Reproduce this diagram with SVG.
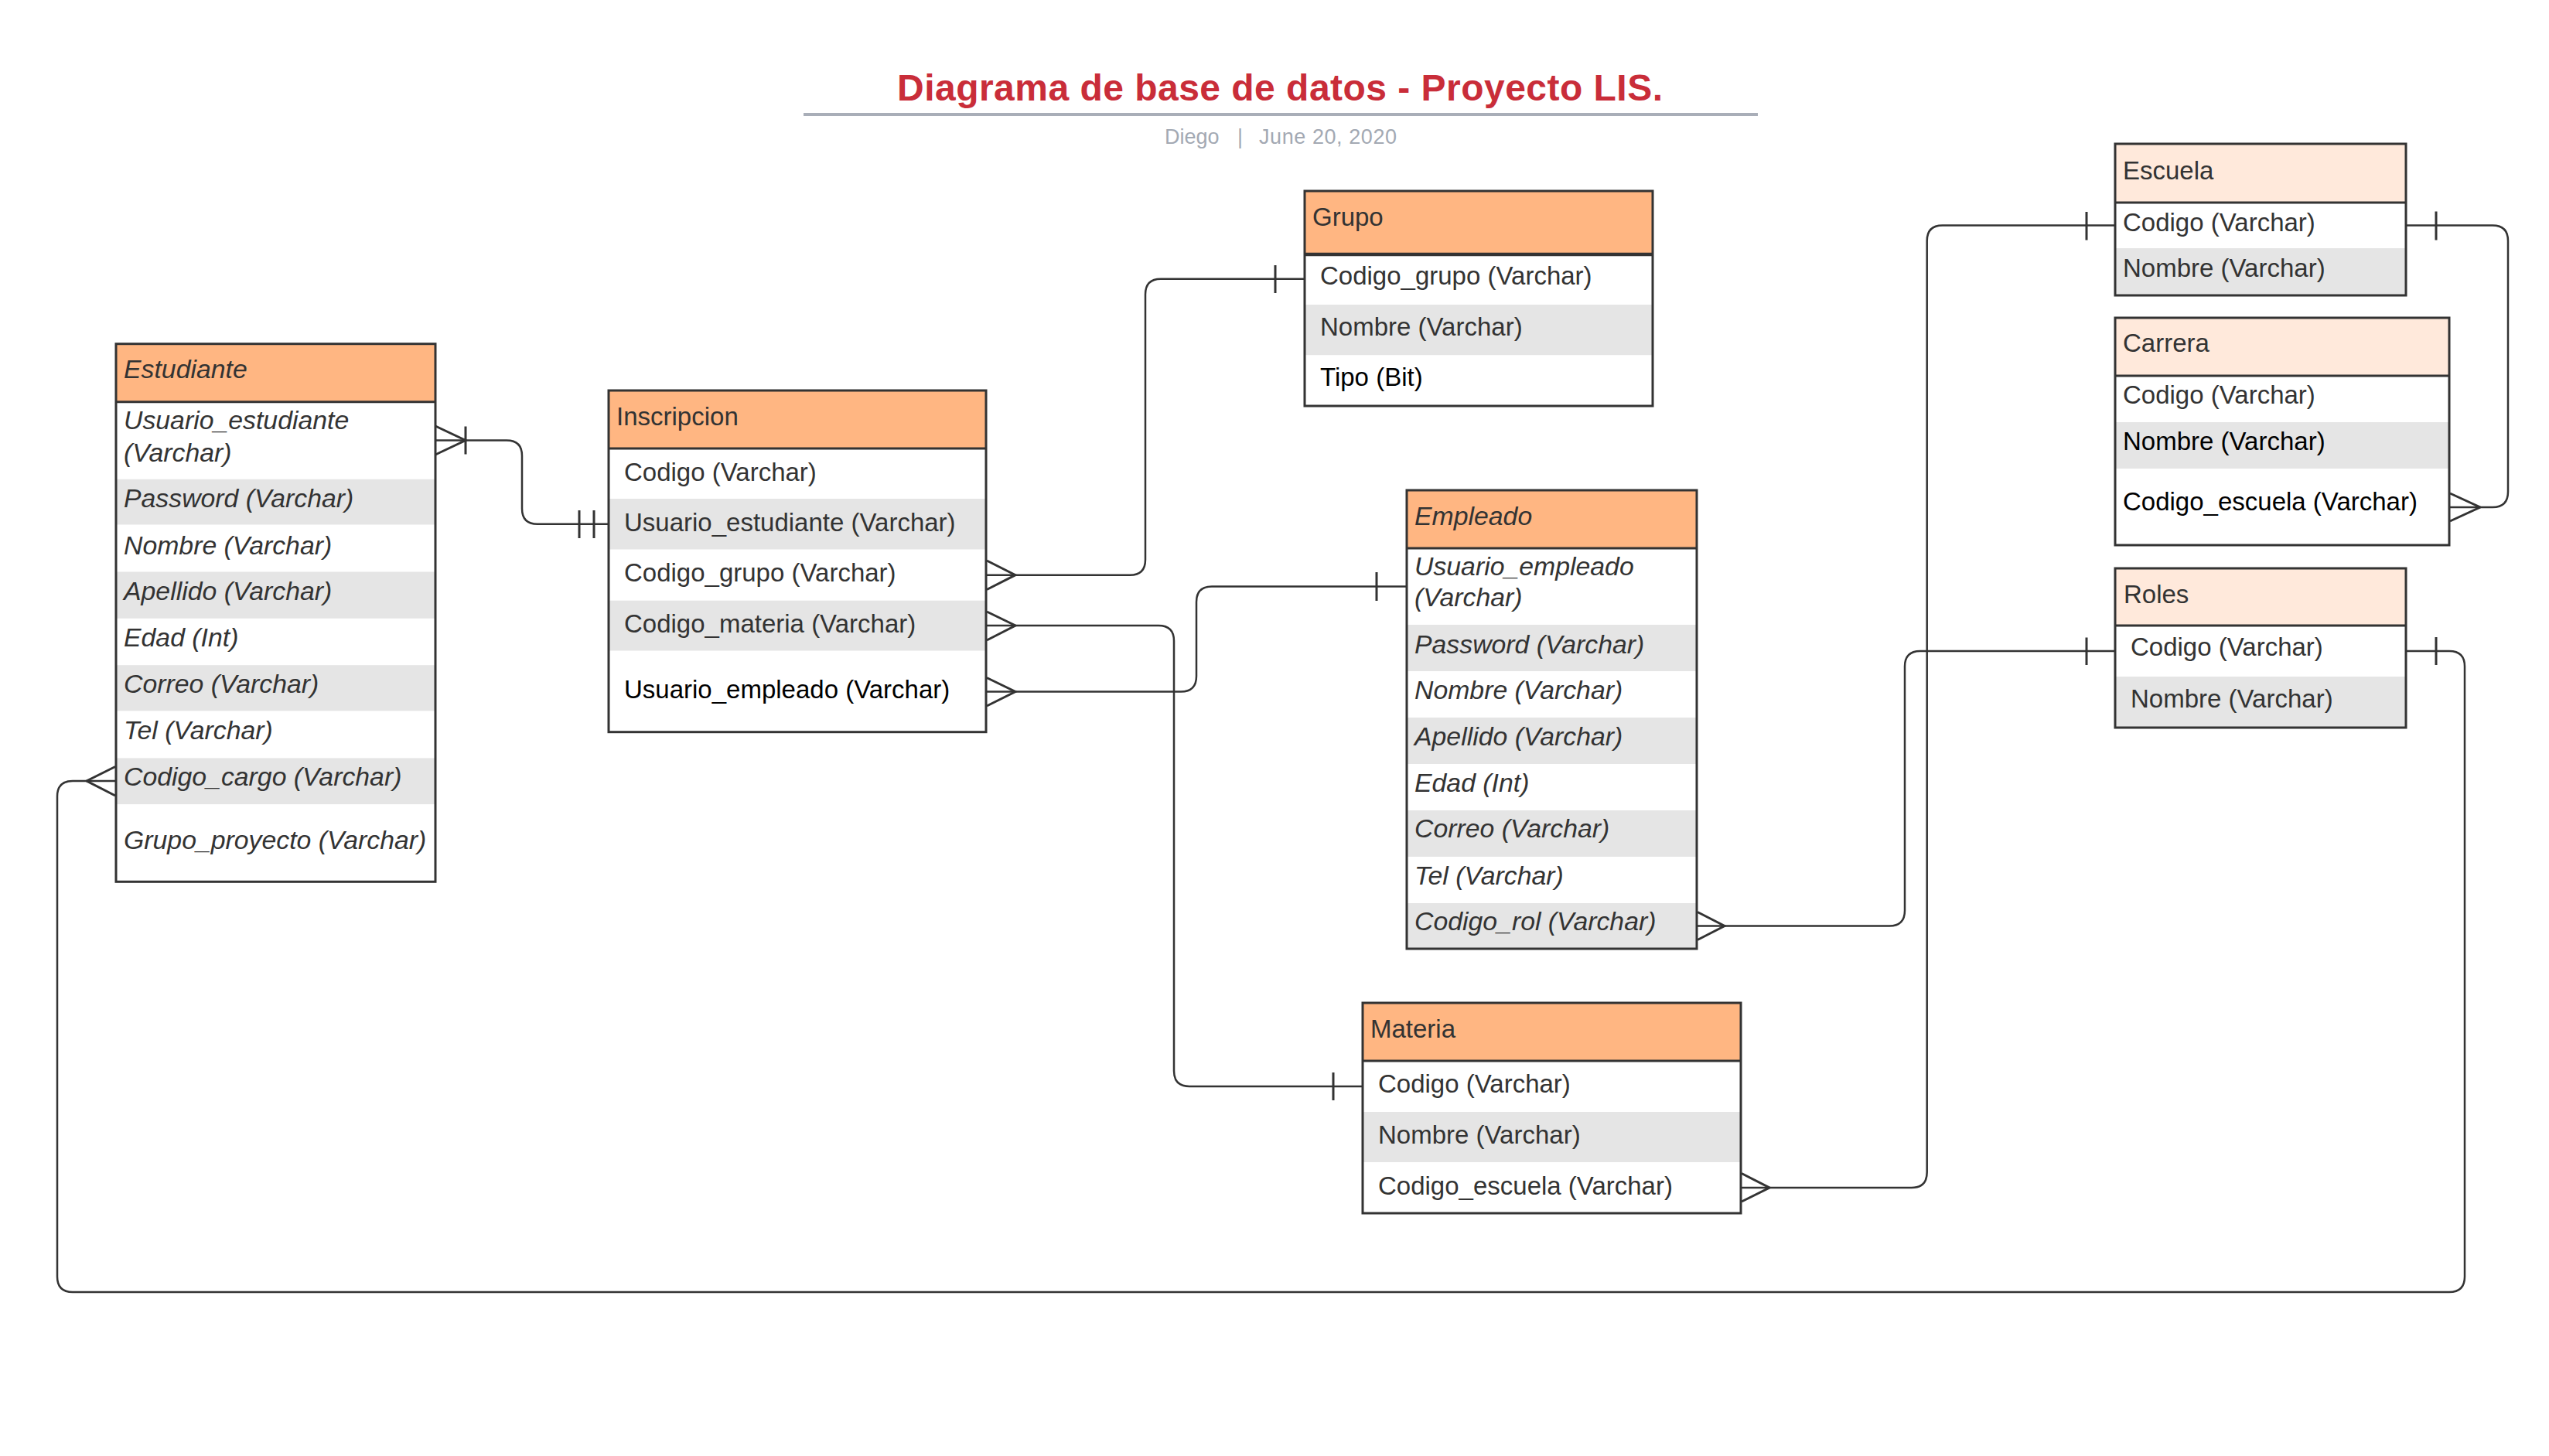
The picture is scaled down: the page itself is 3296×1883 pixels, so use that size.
<svg xmlns="http://www.w3.org/2000/svg" width="3296" height="1883" viewBox="0 0 3296 1883">
<style>
.box{fill:none;stroke:#333333;stroke-width:3}
.hd{fill:#FFB682}
.hl{fill:#FFE9DB}
.g{fill:#E5E5E5}
.w{fill:#FFFFFF}
.sep{stroke:#333333;stroke-width:3}
.t{font-family:"Liberation Sans",Arial,sans-serif;font-size:33px;fill:#333333}
.i{font-style:italic;font-size:33.8px}
.k{fill:#000000}
.c{fill:none;stroke:#333333;stroke-width:2.5}
.m{fill:none;stroke:#333333;stroke-width:3}
.title{font-family:"Liberation Sans",Arial,sans-serif;font-size:48px;font-weight:bold;fill:#C92D39}
.sub{font-family:"Liberation Sans",Arial,sans-serif;font-size:27px;fill:#A3A9B3}
</style>
<rect width="3296" height="1883" fill="#FFFFFF"/>
<g id="title">
<text class="title" x="1160" y="130" textLength="990">Diagrama de base de datos - Proyecto LIS.</text>
<line x1="1039" y1="148" x2="2273" y2="148" stroke="#A9AEB8" stroke-width="4"/>
<text class="sub" x="1506" y="186">Diego</text>
<text class="sub" x="1600" y="186">|</text>
<text class="sub" x="1628" y="186" textLength="178">June 20, 2020</text>
</g>
<g id="connectors">
<path class="c" d="M 563 569.5 H 655 Q 675 569.5 675 589.5 V 657.7 Q 675 677.7 695 677.7 H 787"/>
<path class="m" d="M 563 551 L 602 569.5 L 563 588 M 602 551.5 V 587.5 M 749 660 V 696 M 768 660 V 696"/>
<path class="c" d="M 1275 743.7 H 1461 Q 1481 743.7 1481 723.7 V 380.7 Q 1481 360.7 1501 360.7 H 1687"/>
<path class="m" d="M 1276 725 L 1313 743.7 L 1276 762.5 M 1649 343 V 379"/>
<path class="c" d="M 1275 809 H 1498 Q 1518 809 1518 829 V 1385 Q 1518 1405 1538 1405 H 1762"/>
<path class="m" d="M 1276 791 L 1313 809 L 1276 828 M 1724 1387 V 1423"/>
<path class="c" d="M 1275 894.5 H 1527 Q 1547 894.5 1547 874.5 V 778.5 Q 1547 758.5 1567 758.5 H 1819"/>
<path class="m" d="M 1276 876.5 L 1313 894.5 L 1276 913 M 1780 740 V 777"/>
<path class="c" d="M 2194 1197.5 H 2443 Q 2463 1197.5 2463 1177.5 V 862 Q 2463 842 2483 842 H 2735"/>
<path class="m" d="M 2195 1179.5 L 2230 1197.5 L 2195 1215.5 M 2698 824.5 V 860"/>
<path class="c" d="M 2251 1536 H 2471.7 Q 2491.7 1536 2491.7 1516 V 311.5 Q 2491.7 291.5 2511.7 291.5 H 2735"/>
<path class="m" d="M 2252 1517.5 L 2288 1536 L 2252 1554 M 2698 274 V 310.5"/>
<path class="c" d="M 3111 291.5 H 3223 Q 3243 291.5 3243 311.5 V 636 Q 3243 656 3223 656 H 3167"/>
<path class="m" d="M 3150 273.5 V 310.5 M 3168 638 L 3207 656 L 3168 674"/>
<path class="c" d="M 3111 842 H 3167 Q 3187 842 3187 862 V 1651 Q 3187 1671 3167 1671 H 94 Q 74 1671 74 1651 V 1030 Q 74 1010 94 1010 H 150"/>
<path class="m" d="M 3150 824 V 860 M 149 991.5 L 112 1010 L 149 1029"/>
</g>
<g id="estudiante">
<rect class="hd" x="150" y="444.7" width="413" height="75.1"/>
<rect class="w" x="150" y="519.8" width="413" height="100"/>
<rect class="g" x="150" y="619.8" width="413" height="58.9"/>
<rect class="w" x="150" y="678.7" width="413" height="60.8"/>
<rect class="g" x="150" y="739.5" width="413" height="60.4"/>
<rect class="w" x="150" y="799.9" width="413" height="60.3"/>
<rect class="g" x="150" y="860.2" width="413" height="59.4"/>
<rect class="w" x="150" y="919.6" width="413" height="60.8"/>
<rect class="g" x="150" y="980.4" width="413" height="59.9"/>
<rect class="w" x="150" y="1040.3" width="413" height="100"/>
<line class="sep" x1="150" y1="519.8" x2="563" y2="519.8"/>
<rect class="box" x="150" y="444.7" width="413" height="695.6"/>
<text class="t i" x="160" y="489">Estudiante</text>
<text class="t i" x="160" y="555.3">Usuario_estudiante</text>
<text class="t i" x="160" y="596.7">(Varchar)</text>
<text class="t i" x="160" y="655.7">Password (Varchar)</text>
<text class="t i" x="160" y="716.5">Nombre (Varchar)</text>
<text class="t i" x="160" y="776.4">Apellido (Varchar)</text>
<text class="t i" x="160" y="836.3">Edad (Int)</text>
<text class="t i" x="160" y="896.1">Correo (Varchar)</text>
<text class="t i" x="160" y="956">Tel (Varchar)</text>
<text class="t i" x="160" y="1016.4">Codigo_cargo (Varchar)</text>
<text class="t i" x="160" y="1098">Grupo_proyecto (Varchar)</text>
</g>
<g id="inscripcion">
<rect class="hd" x="787" y="505" width="488" height="75"/>
<rect class="w" x="787" y="580" width="488" height="65"/>
<rect class="g" x="787" y="645" width="488" height="65.7"/>
<rect class="w" x="787" y="710.7" width="488" height="66"/>
<rect class="g" x="787" y="776.7" width="488" height="65"/>
<rect class="w" x="787" y="841.7" width="488" height="105"/>
<line class="sep" x1="787" y1="580" x2="1275" y2="580"/>
<rect class="box" x="787" y="505" width="488" height="441.7"/>
<text class="t" x="797" y="550">Inscripcion</text>
<text class="t" x="807" y="621.7">Codigo (Varchar)</text>
<text class="t" x="807" y="686.7">Usuario_estudiante (Varchar)</text>
<text class="t" x="807" y="752.3">Codigo_grupo (Varchar)</text>
<text class="t" x="807" y="818.3">Codigo_materia (Varchar)</text>
<text class="t k" x="807" y="903.3">Usuario_empleado (Varchar)</text>
</g>
<g id="grupo">
<rect class="hd" x="1687" y="247" width="450" height="82"/>
<rect class="w" x="1687" y="329" width="450" height="65"/>
<rect class="g" x="1687" y="394" width="450" height="65.5"/>
<rect class="w" x="1687" y="459.5" width="450" height="65.5"/>
<line x1="1687" y1="329" x2="2137" y2="329" stroke="#333333" stroke-width="4.5"/>
<rect class="box" x="1687" y="247" width="450" height="278"/>
<text class="t" x="1697" y="291.7">Grupo</text>
<text class="t" x="1707" y="368.3">Codigo_grupo (Varchar)</text>
<text class="t" x="1707" y="434">Nombre (Varchar)</text>
<text class="t k" x="1707" y="499.3">Tipo (Bit)</text>
</g>
<g id="empleado">
<rect class="hd" x="1819" y="634" width="375" height="75"/>
<rect class="w" x="1819" y="709" width="375" height="99"/>
<rect class="g" x="1819" y="808" width="375" height="60"/>
<rect class="w" x="1819" y="868" width="375" height="60"/>
<rect class="g" x="1819" y="928" width="375" height="60"/>
<rect class="w" x="1819" y="988" width="375" height="60"/>
<rect class="g" x="1819" y="1048" width="375" height="60"/>
<rect class="w" x="1819" y="1108" width="375" height="60"/>
<rect class="g" x="1819" y="1168" width="375" height="59"/>
<line class="sep" x1="1819" y1="709" x2="2194" y2="709"/>
<rect class="box" x="1819" y="634" width="375" height="593"/>
<text class="t i" x="1829" y="678.5">Empleado</text>
<text class="t i" x="1829" y="743.8">Usuario_empleado</text>
<text class="t i" x="1829" y="784">(Varchar)</text>
<text class="t i" x="1829" y="844.6">Password (Varchar)</text>
<text class="t i" x="1829" y="903.9">Nombre (Varchar)</text>
<text class="t i" x="1829" y="964">Apellido (Varchar)</text>
<text class="t i" x="1829" y="1024">Edad (Int)</text>
<text class="t i" x="1829" y="1083.4">Correo (Varchar)</text>
<text class="t i" x="1829" y="1143.9">Tel (Varchar)</text>
<text class="t i" x="1829" y="1203.2">Codigo_rol (Varchar)</text>
</g>
<g id="materia">
<rect class="hd" x="1762" y="1297" width="489" height="75"/>
<rect class="w" x="1762" y="1372" width="489" height="66"/>
<rect class="g" x="1762" y="1438" width="489" height="65"/>
<rect class="w" x="1762" y="1503" width="489" height="66"/>
<line class="sep" x1="1762" y1="1372" x2="2251" y2="1372"/>
<rect class="box" x="1762" y="1297" width="489" height="272"/>
<text class="t" x="1772" y="1341.7">Materia</text>
<text class="t" x="1782" y="1413.3">Codigo (Varchar)</text>
<text class="t" x="1782" y="1479.3">Nombre (Varchar)</text>
<text class="t" x="1782" y="1545">Codigo_escuela (Varchar)</text>
</g>
<g id="escuela">
<rect class="hl" x="2735" y="186" width="376" height="76"/>
<rect class="w" x="2735" y="262" width="376" height="59"/>
<rect class="g" x="2735" y="321" width="376" height="61"/>
<line class="sep" x1="2735" y1="262" x2="3111" y2="262"/>
<rect class="box" x="2735" y="186" width="376" height="196"/>
<text class="t" x="2745" y="232">Escuela</text>
<text class="t" x="2745" y="299.3">Codigo (Varchar)</text>
<text class="t" x="2745" y="357.9">Nombre (Varchar)</text>
</g>
<g id="carrera">
<rect class="hl" x="2735" y="411" width="432" height="75"/>
<rect class="w" x="2735" y="486" width="432" height="60"/>
<rect class="g" x="2735" y="546" width="432" height="60"/>
<rect class="w" x="2735" y="606" width="432" height="99"/>
<line class="sep" x1="2735" y1="486" x2="3167" y2="486"/>
<rect class="box" x="2735" y="411" width="432" height="294"/>
<text class="t" x="2745" y="455.4">Carrera</text>
<text class="t" x="2745" y="521.6">Codigo (Varchar)</text>
<text class="t k" x="2745" y="581.9">Nombre (Varchar)</text>
<text class="t k" x="2745" y="659.5">Codigo_escuela (Varchar)</text>
</g>
<g id="roles">
<rect class="hl" x="2735" y="735" width="376" height="74"/>
<rect class="w" x="2735" y="809" width="376" height="66"/>
<rect class="g" x="2735" y="875" width="376" height="66"/>
<line class="sep" x1="2735" y1="809" x2="3111" y2="809"/>
<rect class="box" x="2735" y="735" width="376" height="206"/>
<text class="t" x="2746" y="780">Roles</text>
<text class="t" x="2755" y="848.3">Codigo (Varchar)</text>
<text class="t" x="2755" y="915">Nombre (Varchar)</text>
</g>
</svg>
